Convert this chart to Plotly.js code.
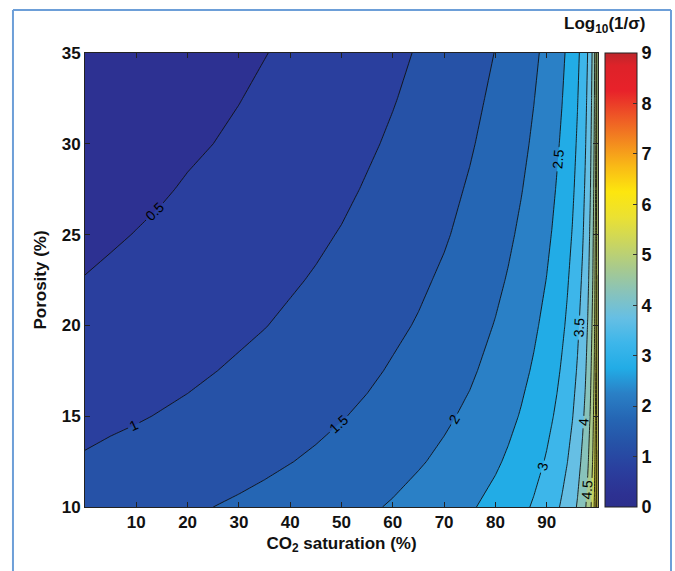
<!DOCTYPE html>
<html><head><meta charset="utf-8">
<script src="https://cdn.plot.ly/plotly-3.0.1.min.js"></script>
<style>html,body{margin:0;padding:0;background:#fff}#chart{width:675px;height:571px}</style>
</head><body><div id="chart"></div>
<script>
// CO2 saturation (%) grid columns
const saturation = [0,5,10,15,20,25,30,35,40,45,50,55,60,65,70,75,80,82.5,85,87.5,90,91,92,93,94,95,96,97,97.5,98,98.5,99,99.3,99.6,99.8,99.9];
// Porosity (%) grid rows
const porosity = [10,12.5,15,17.5,20,22.5,25,27.5,30,32.5,35];
// log10(1/sigma) (rows = porosity, cols = saturation)
const logInvSigma = [
 [1.25,1.29,1.34,1.39,1.44,1.50,1.56,1.62,1.69,1.77,1.85,1.94,2.04,2.16,2.29,2.45,2.64,2.76,2.89,3.05,3.25,3.34,3.44,3.56,3.69,3.85,4.04,4.29,4.45,4.64,4.89,5.25,5.56,6.04,6.64,7.25],
 [1.04,1.09,1.14,1.19,1.24,1.29,1.35,1.42,1.49,1.56,1.65,1.74,1.84,1.96,2.09,2.25,2.44,2.56,2.69,2.85,3.04,3.14,3.24,3.35,3.49,3.65,3.84,4.09,4.25,4.44,4.69,5.04,5.35,5.84,6.44,7.04],
 [0.88,0.93,0.97,1.02,1.07,1.13,1.19,1.25,1.32,1.40,1.48,1.57,1.68,1.79,1.93,2.08,2.28,2.39,2.53,2.69,2.88,2.97,3.07,3.19,3.32,3.48,3.68,3.93,4.08,4.28,4.53,4.88,5.19,5.68,6.28,6.88],
 [0.74,0.79,0.83,0.88,0.93,0.99,1.05,1.11,1.18,1.26,1.34,1.43,1.54,1.65,1.79,1.94,2.14,2.25,2.39,2.55,2.74,2.83,2.93,3.05,3.18,3.34,3.54,3.79,3.94,4.14,4.39,4.74,5.05,5.54,6.14,6.74],
 [0.62,0.67,0.71,0.76,0.81,0.87,0.93,0.99,1.06,1.14,1.22,1.31,1.42,1.53,1.67,1.82,2.02,2.13,2.27,2.43,2.62,2.71,2.81,2.93,3.06,3.22,3.42,3.67,3.82,4.02,4.27,4.62,4.93,5.42,6.02,6.62],
 [0.51,0.56,0.61,0.65,0.71,0.76,0.82,0.89,0.96,1.03,1.12,1.21,1.31,1.43,1.56,1.72,1.91,2.03,2.16,2.32,2.51,2.61,2.71,2.82,2.96,3.12,3.31,3.56,3.72,3.91,4.16,4.51,4.82,5.31,5.91,6.51],
 [0.42,0.46,0.51,0.56,0.61,0.67,0.73,0.79,0.86,0.94,1.02,1.11,1.21,1.33,1.46,1.62,1.82,1.93,2.07,2.22,2.42,2.51,2.61,2.73,2.86,3.02,3.21,3.46,3.62,3.82,4.07,4.42,4.73,5.21,5.82,6.42],
 [0.33,0.38,0.42,0.47,0.53,0.58,0.64,0.71,0.78,0.85,0.93,1.03,1.13,1.24,1.38,1.54,1.73,1.85,1.98,2.14,2.33,2.42,2.53,2.64,2.78,2.93,3.13,3.38,3.54,3.73,3.98,4.33,4.64,5.13,5.73,6.33],
 [0.25,0.30,0.35,0.40,0.45,0.50,0.56,0.63,0.70,0.77,0.86,0.95,1.05,1.17,1.30,1.46,1.65,1.77,1.90,2.06,2.25,2.35,2.45,2.56,2.70,2.86,3.05,3.30,3.46,3.65,3.90,4.25,4.56,5.05,5.65,6.25],
 [0.18,0.23,0.27,0.32,0.38,0.43,0.49,0.56,0.63,0.70,0.78,0.88,0.98,1.09,1.23,1.39,1.58,1.70,1.83,1.99,2.18,2.27,2.38,2.49,2.63,2.78,2.98,3.23,3.39,3.58,3.83,4.18,4.49,4.98,5.58,6.18],
 [0.11,0.16,0.21,0.26,0.31,0.36,0.42,0.49,0.56,0.63,0.72,0.81,0.91,1.03,1.16,1.32,1.51,1.63,1.76,1.92,2.11,2.21,2.31,2.42,2.56,2.72,2.91,3.16,3.32,3.51,3.76,4.11,4.42,4.91,5.51,6.11]
];
const xTicks = [10,20,30,40,50,60,70,80,90];
const yTicks = [10,15,20,25,30,35];
const colorbarTicks = [0,1,2,3,4,5,6,7,8,9];

// style: band colours at band mid-levels (0.25, 0.75, ... 8.75), plus ends
const bandColors = ['#2d3192','#2a3f9e','#2652a7','#2566b4','#2a80c6','#22ace6','#3db6ea','#66bfe4',
  '#88c3bb','#a9ca8c','#cbd65e','#ebe132','#fde60e','#f9ba16','#f3881f','#ee5626','#e8222a','#de2229'];
const lowColor = '#2c2f8c', highColor = '#bd262b';
const step = 0.5, zLo = 0, zHi = 9;

// contour fill colour map: f = (z + step/2) / (zHi - zLo + step)
const contourScale = [[0, lowColor]];
bandColors.forEach((c, i) => {
  const z = zLo + step / 2 + i * step;
  contourScale.push([(z - zLo + step / 2) / (zHi - zLo + step), c]);
});
contourScale.push([1, highColor]);
// colorbar scale over 0..9
const barScale = [[0, lowColor]];
bandColors.forEach((c, i) => {
  const z = zLo + step / 2 + i * step;
  barScale.push([(z - zLo) / (zHi - zLo), c]);
});
barScale.push([1, highColor]);

const FONT = 'Liberation Sans, Arial, sans-serif';

const contour = {
  type: 'contour', x: saturation, y: porosity, z: logInvSigma,
  autocontour: false,
  contours: {start: zLo, end: zHi, size: step, coloring: 'fill', showlabels: true,
    labelfont: {family: FONT, size: 14, color: '#000'}},
  line: {color: '#111', width: 0.9, smoothing: 0},
  colorscale: contourScale, showscale: false, hoverinfo: 'skip'
};
const barTrace = {
  type: 'heatmap', x: [-50], y: [-50], z: [[0]], zmin: zLo, zmax: zHi,
  colorscale: barScale, hoverinfo: 'skip', showscale: true,
  colorbar: {x: 1.0136, xanchor: 'left', xpad: 0, y: 0, yanchor: 'bottom', ypad: 0,
    len: 1, lenmode: 'fraction', thickness: 32, thicknessmode: 'pixels',
    outlinewidth: 1, outlinecolor: '#222', tickvals: colorbarTicks, ticks: 'inside',
    ticklen: 4, tickcolor: '#333', tickfont: {family: FONT, size: 18, color: '#111', weight: 'bold'}}
};

const frame = '#6d9fd8';
const layout = {
  width: 675, height: 571,
  margin: {l: 85, r: 77, t: 53, b: 64, pad: 0},
  paper_bgcolor: '#fff', plot_bgcolor: '#fff',
  showlegend: false,
  font: {family: FONT, color: '#111'},
  xaxis: {range: [0, 100], tickvals: xTicks, ticks: 'inside', ticklen: 5, tickcolor: '#222',
    mirror: 'allticks', showline: true, linecolor: '#222', linewidth: 1, showgrid: false, zeroline: false,
    tickfont: {family: FONT, size: 17, weight: 'bold'},
    title: {text: 'CO<sub>2</sub> saturation (%)', font: {family: FONT, size: 17, weight: 'bold'}, standoff: 5},
    automargin: false},
  yaxis: {range: [10, 35], tickvals: yTicks, ticks: 'inside', ticklen: 5, tickcolor: '#222',
    mirror: 'allticks', showline: true, linecolor: '#222', linewidth: 1, showgrid: false, zeroline: false,
    tickfont: {family: FONT, size: 17, weight: 'bold'},
    title: {text: 'Porosity (%)', font: {family: FONT, size: 17, weight: 'bold'}, standoff: 10},
    automargin: false},
  annotations: [{xref: 'paper', yref: 'paper', x: 1.0136, y: 1.0617, xanchor: 'center', yanchor: 'middle',
    text: 'Log<sub>10</sub>(1/σ)', showarrow: false, font: {family: FONT, size: 17, weight: 'bold', color: '#111'}}],
  shapes: [
    {type: 'line', xref: 'paper', yref: 'paper', x0: -0.1404, x1: -0.1404, y0: -0.16, y1: 1.0947, line: {color: frame, width: 2}},
    {type: 'line', xref: 'paper', yref: 'paper', x0: -0.1404, x1: 1.1423, y0: 1.0947, y1: 1.0947, line: {color: frame, width: 2}},
    {type: 'line', xref: 'paper', yref: 'paper', x0: 1.1423, x1: 1.1423, y0: -0.16, y1: 1.0947, line: {color: frame, width: 2}}
  ]
};
Plotly.newPlot('chart', [contour, barTrace], layout, {displayModeBar: false, staticPlot: true});
</script></body></html>
